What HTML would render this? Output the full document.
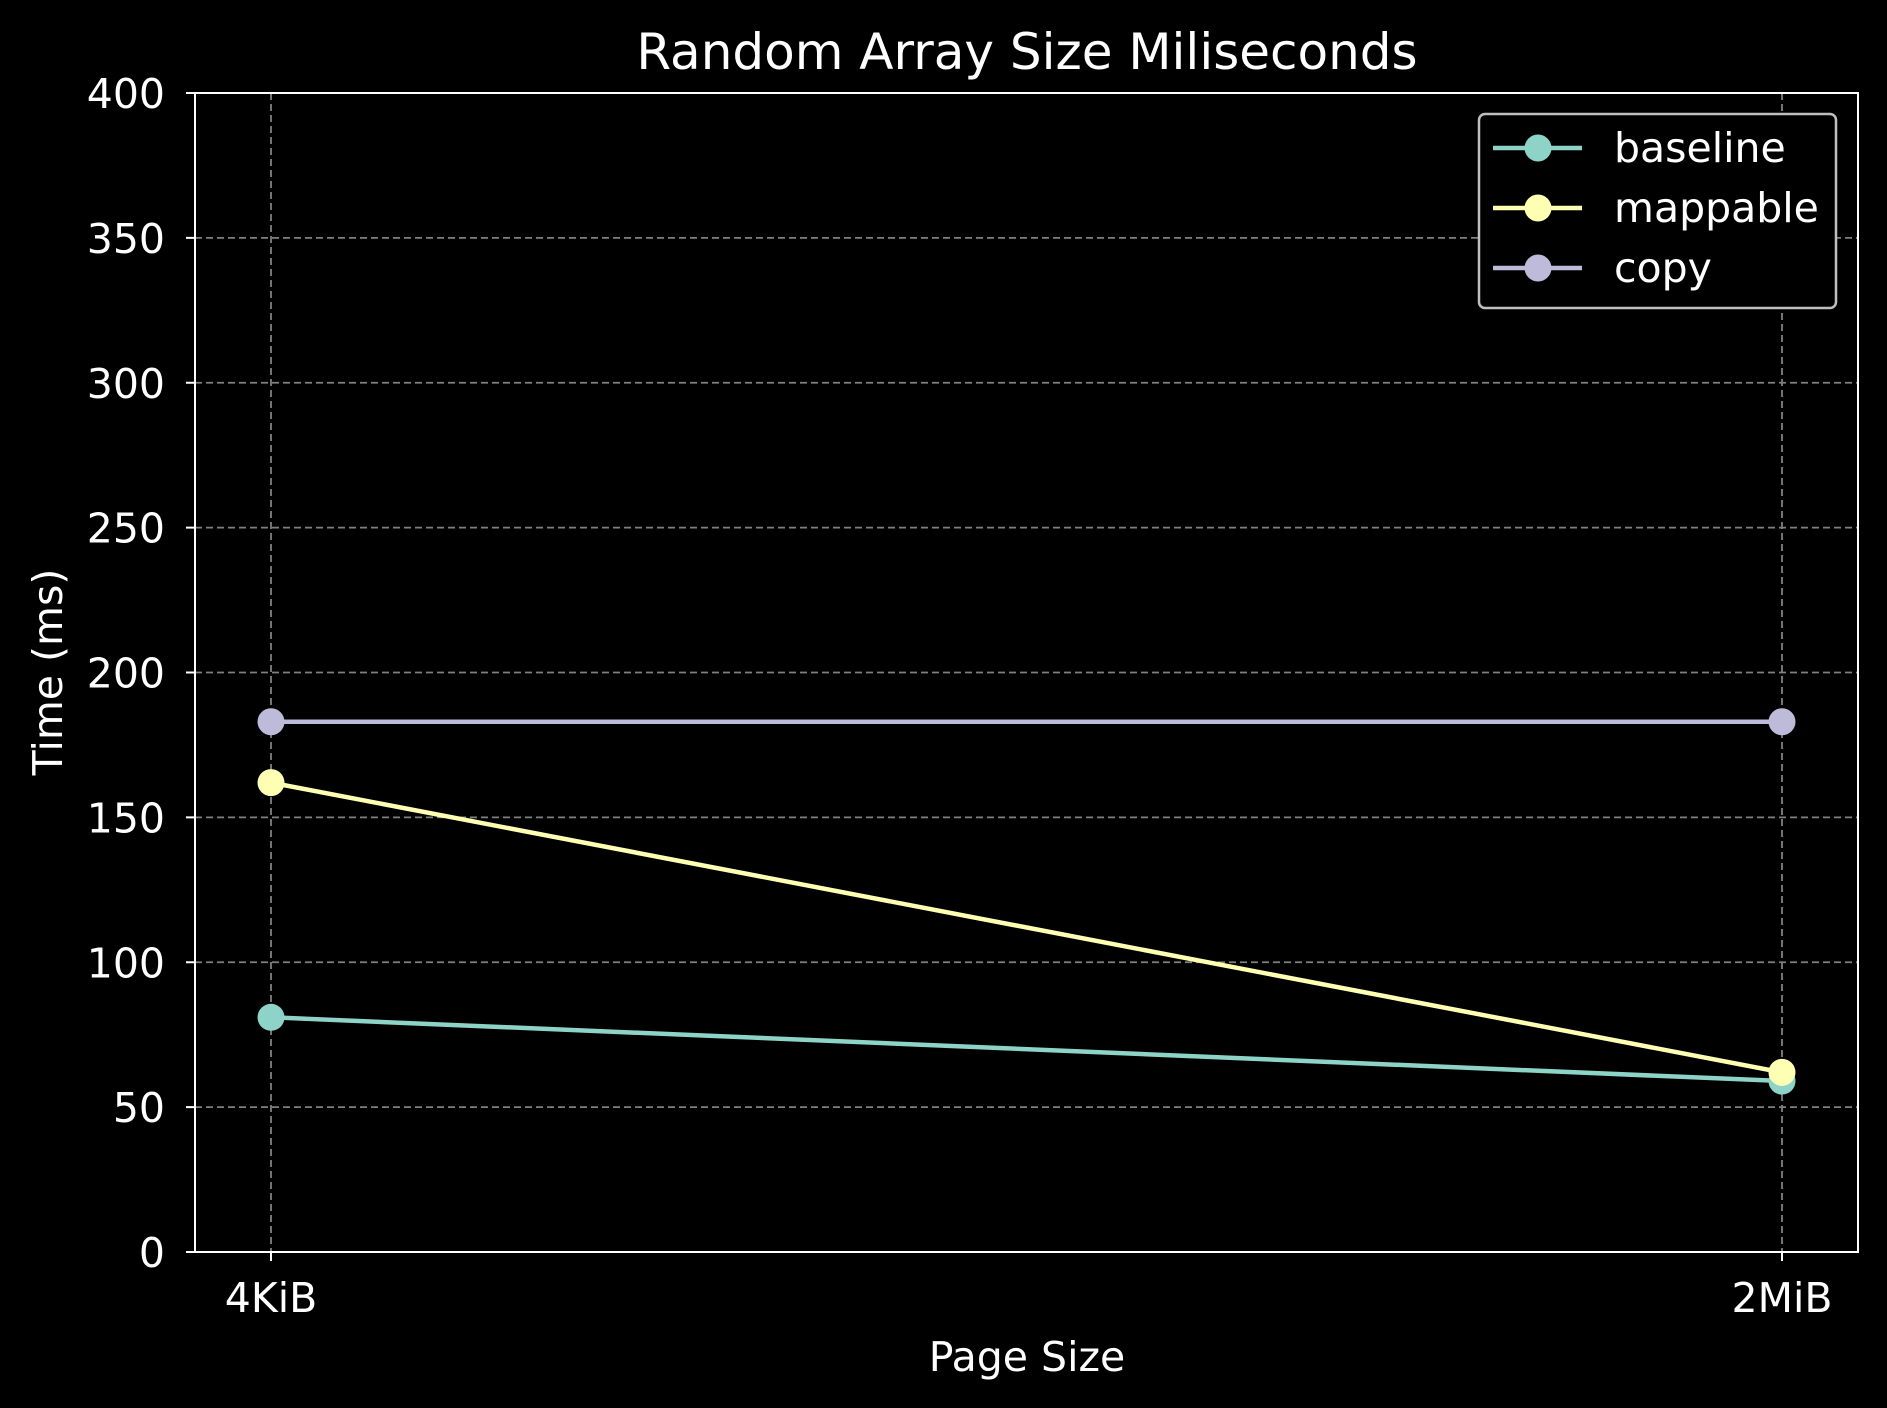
<!DOCTYPE html>
<html><head><meta charset="utf-8"><style>
html,body{margin:0;padding:0;background:#000;}
svg{display:block;font-family:"DejaVu Sans","Liberation Sans",sans-serif;}
</style></head><body>
<svg id="chart" width="1887" height="1408" viewBox="0 0 1887 1408">
<rect width="1887" height="1408" fill="#000"/>
<text x="1027" y="69" fill="#fff" font-size="50" text-anchor="middle">Random Array Size Miliseconds</text>
<text x="1027" y="1371" fill="#fff" font-size="41" text-anchor="middle">Page Size</text>
<text transform="translate(62,672) rotate(-90)" fill="#fff" font-size="41" text-anchor="middle">Time (ms)</text>
<g id="grid"></g><g id="axes"></g><g id="series"></g><g id="legend"></g>
</svg>
<script>
const categories = ["4KiB", "2MiB"];
const yTicks = [0, 50, 100, 150, 200, 250, 300, 350, 400];
const baseline = [81, 59];
const mappable = [162, 62];
const copy = [183, 183];
const seriesNames = ["baseline", "mappable", "copy"];
const seriesColors = ["#8dd3c7", "#ffffb3", "#bebada"];

const NS = "http://www.w3.org/2000/svg";
const L = 195, R = 1858, T = 93, B = 1252;
const x0 = 271, x1 = 1782;
function xs(i){ return x0 + (x1 - x0) * i / (categories.length - 1); }
function ys(v){ return B - (B - T) * v / 400; }
function mk(tag, attrs, parent){ const e = document.createElementNS(NS, tag); for (const k in attrs) e.setAttribute(k, attrs[k]); parent.appendChild(e); return e; }
const grid = document.getElementById("grid"), axes = document.getElementById("axes"), ser = document.getElementById("series"), leg = document.getElementById("legend");

yTicks.forEach(v => {
  const y = ys(v);
  const g = mk("line", {x1:L, x2:R, y1:y, y2:y, stroke:"#808080", "stroke-width":1.8, "stroke-dasharray":"7,4"}, grid);
  
  
  mk("line", {x1:L-9, x2:L, y1:y, y2:y, stroke:"#fff", "stroke-width":2}, axes);
  const t = mk("text", {x:L-30, y:y+15, fill:"#fff", "font-size":41, "text-anchor":"end"}, axes);
  t.textContent = v;
  
  
});
categories.forEach((c, i) => {
  const x = xs(i);
  const g = mk("line", {x1:x, x2:x, y1:T, y2:B, stroke:"#808080", "stroke-width":1.8, "stroke-dasharray":"7,4"}, grid);
  
  
  mk("line", {x1:x, x2:x, y1:B, y2:B+9, stroke:"#fff", "stroke-width":2}, axes);
  const t = mk("text", {x:x, y:B+60, fill:"#fff", "font-size":41, "text-anchor":"middle"}, axes);
  t.textContent = c;
  
  
});
const frame = mk("rect", {x:L, y:T, width:R-L, height:B-T, fill:"none", stroke:"#fff", "stroke-width":2}, axes);



[baseline, mappable, copy].forEach((vals, s) => {
  const pts = vals.map((v, i) => xs(i) + "," + ys(v)).join(" ");
  const pl = mk("polyline", {points:pts, fill:"none", stroke:seriesColors[s], "stroke-width":4.5}, ser);
  
  
  vals.forEach((v, i) => {
    const c = mk("circle", {cx:xs(i), cy:ys(v), r:13.5, fill:seriesColors[s]}, ser);
    
    
  });
});

const box = mk("rect", {x:1479, y:114, width:357, height:194, rx:6, fill:"#000", stroke:"#bfbfbf", "stroke-width":2.5}, leg);


seriesNames.forEach((n, s) => {
  const y = 148 + 60 * s;
  const ln = mk("line", {x1:1493, x2:1582, y1:y, y2:y, stroke:seriesColors[s], "stroke-width":4.5}, leg);
  
  
  const c = mk("circle", {cx:1538, cy:y, r:13.5, fill:seriesColors[s]}, leg);
  
  
  const t = mk("text", {x:1614, y:y+14, fill:"#fff", "font-size":41}, leg);
  t.textContent = n;
  
  
});
</script>
</body></html>
